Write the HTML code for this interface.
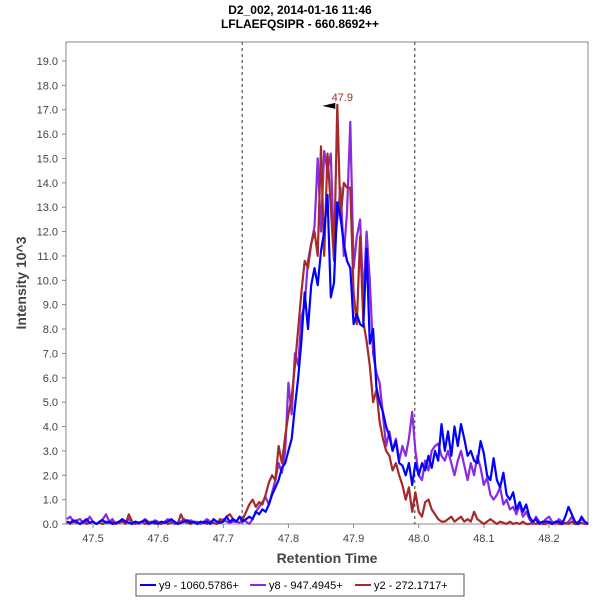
<!DOCTYPE html>
<html><head><meta charset="utf-8"><style>
body{margin:0;background:#fff;font-family:"Liberation Sans",sans-serif;}
svg text{font-family:"Liberation Sans",sans-serif;}
</style></head><body>
<svg id="chart" width="600" height="600">
<text x="300" y="14" text-anchor="middle" font-size="12" font-weight="bold">D2_002, 2014-01-16 11:46</text>
<text x="300" y="28" text-anchor="middle" font-size="12" font-weight="bold">LFLAEFQSIPR - 660.8692++</text>
<rect x="66" y="42" width="522" height="482" fill="#fff" stroke="#888"/>
<g id="yticks"></g><g id="xticks"></g><g id="series"></g>
<text transform="translate(26,283) rotate(-90)" text-anchor="middle" font-size="14" font-weight="bold" fill="#444">Intensity 10^3</text>
<text x="327" y="563" text-anchor="middle" font-size="14" font-weight="bold" fill="#444">Retention Time</text>
<g>
<rect x="136" y="574" width="328" height="22" fill="#fff" stroke="#555"/>
<g><line x1="140" y1="585" x2="156" y2="585" stroke="#0000ff" stroke-width="2"/><text x="159" y="589" font-size="11">y9 - 1060.5786+</text></g>
<g><line x1="250" y1="585" x2="266" y2="585" stroke="#8a2be2" stroke-width="2"/><text x="269" y="589" font-size="11">y8 - 947.4945+</text></g>
<g><line x1="355" y1="585" x2="371" y2="585" stroke="#a52a2a" stroke-width="2"/><text x="374" y="589" font-size="11">y2 - 272.1717+</text></g>
</g>
</svg>
<script>
const t0 = 47.46, step = 0.005;
const yTicks = [0,1,2,3,4,5,6,7,8,9,10,11,12,13,14,15,16,17,18,19];
const xTicks = [47.5,47.6,47.7,47.8,47.9,48.0,48.1,48.2];
const markers = [47.729, 47.994];
const peakTime = 47.875, peakVal = 17.2, peakLabel = "47.9";
const y9 = [0.1,0.05,0.15,0.1,0.0,0.1,0.2,0.05,0.1,0.0, 0.1,0.15,0.05,0.1,0.0,0.05,0.1,0.2,0.1,0.05, 0.0,0.1,0.05,0.1,0.15,0.0,0.05,0.1,0.0,0.1, 0.05,0.1,0.2,0.1,0.0,0.05,0.1,0.15,0.05,0.1, 0.0,0.1,0.05,0.1,0.0,0.2,0.1,0.05,0.1,0.3, 0.1,0.2,
0.1,0.3,0.1,0.2,0.3,0.2,0.5,0.4, 0.6,0.5,0.8,1.2,1.5,1.8,2.3,2.5, 3.0,3.5,4.8,6.0,7.5,9.5,8.0,9.8,
10.5,9.8,11.2,12.0,13.5,9.3,9.9,13.2, 12.6,11.5,10.8,10.5,8.2,8.6,8.2,8.1, 11.3,7.4,8.0,5.6,5.0,4.6,4.0,3.6,
3.0,3.4,2.5,2.4,2.0,2.5,1.6,2.5, 2.0,2.5,2.2,2.8,2.3,3.0,2.6,4.1, 3.0,3.8,2.8,4.0,3.2,4.1,3.5,2.8,
3.0,2.6,2.5,3.4,2.9,2.0,1.8,2.7, 1.8,1.5,2.1,1.2,1.0,1.3,0.6,0.9, 0.5,0.8,0.3,0.1,0.2,0.0,0.1,0.1,
0.1,0.0,0.1,0.1,0.0,0.3,0.7,0.4,0.1,0.0,0.3,0.1,0.0];
const y8 = [0.2,0.3,0.1,0.15,0.2,0.05,0.1,0.3,0.1,0.0, 0.1,0.2,0.4,0.1,0.2,0.0,0.1,0.15,0.1,0.2, 0.05,0.1,0.0,0.1,0.2,0.1,0.05,0.15,0.1,0.0, 0.1,0.2,0.1,0.0,0.05,0.1,0.2,0.1,0.15,0.05, 0.1,0.0,0.1,0.2,0.1,0.05,0.0,0.1,0.2,0.1, 0.05,0.1,
0.1,0.05,0.2,0.1,0.0,0.2,0.5,0.7, 0.9,1.1,0.8,1.3,1.8,2.5,2.1,3.0, 5.8,4.5,7.0,6.5,8.5,9.0,10.8,11.5,
12.2,15.0,12.0,15.3,14.5,15.2,11.2,12.5, 13.8,11.0,12.8,16.5,10.5,11.8,12.5,9.2, 12.0,10.0,7.0,6.2,5.8,4.5,3.2,3.8,
3.0,3.5,2.6,3.2,2.8,3.5,4.6,3.0, 2.0,1.8,2.6,2.2,3.0,3.2,3.3,2.8, 2.6,3.0,2.5,2.0,2.6,3.0,2.4,1.8,
2.5,2.0,2.8,2.3,1.6,1.9,1.2,1.0, 1.2,1.5,0.8,1.0,0.6,0.7,0.4,0.8, 0.3,0.5,0.2,0.0,0.3,0.1,0.0,0.2,
0.3,0.1,0.0,0.2,0.1,0.0,0.1,0.3,0.0,0.1,0.2,0.1,0.0];
const y2 = [0.1,0.0,0.1,0.05,0.0,0.1,0.0,0.05,0.1,0.0, 0.05,0.0,0.1,0.05,0.1,0.0,0.05,0.1,0.0,0.4, 0.1,0.0,0.05,0.1,0.0,0.05,0.1,0.0,0.05,0.0, 0.1,0.0,0.05,0.1,0.0,0.4,0.1,0.05,0.0,0.1, 0.0,0.05,0.1,0.0,0.1,0.05,0.0,0.2,0.1,0.3, 0.4,0.2,
0.1,0.3,0.2,0.5,0.8,1.0,0.7,0.9, 0.8,1.2,1.7,2.0,1.8,3.2,2.5,3.6, 4.5,5.2,6.5,8.0,9.5,10.8,10.5,11.5,
12.0,11.0,15.5,11.0,15.2,13.0,10.8,17.2, 12.5,14.0,13.8,13.8,9.5,8.2,11.8,8.3, 7.5,6.5,5.0,5.5,4.2,3.5,3.0,2.8,
2.2,2.5,2.0,1.6,1.0,1.5,0.5,1.3, 0.5,0.3,0.9,1.0,0.6,0.4,0.2,0.1, 0.1,0.2,0.3,0.1,0.2,0.3,0.1,0.2,
0.1,0.5,0.2,0.1,0.0,0.1,0.2,0.1, 0.0,0.1,0.05,0.0,0.1,0.0,0.05,0.0, 0.1,0.0,0.0,0.05,0.0,0.1,0.0,0.0,
0.05,0.0,0.1,0.0,0.0,0.05,0.0,0.1,0.0,0.0,0.05,0.0,0.0];
const NS="http://www.w3.org/2000/svg";
const X = t => 93 + (t - 47.5) * 651.4;
const Y = v => 524 - v * 24.37;
function mk(tag, attrs, parent){const e=document.createElementNS(NS,tag);for(const k in attrs)e.setAttribute(k,attrs[k]);parent.appendChild(e);return e;}
const yg=document.getElementById('yticks'), xg=document.getElementById('xticks'), sg=document.getElementById('series');
yTicks.forEach(v=>{
  const l=mk('line',{x1:62,x2:66,y1:Y(v),y2:Y(v),stroke:'#888'},yg);
  
  
  const t=mk('text',{x:58,y:Y(v)+4,'text-anchor':'end','font-size':11,fill:'#444'},yg);
  
  
  t.textContent=v.toFixed(1);
});
xTicks.forEach(v=>{
  const l=mk('line',{x1:X(v),x2:X(v),y1:524,y2:528,stroke:'#888'},xg);
  
  
  const t=mk('text',{x:X(v),y:542,'text-anchor':'middle','font-size':11,fill:'#444'},xg);
  
  
  t.textContent=v.toFixed(1);
});
markers.forEach(v=>{
  const l=mk('line',{x1:X(v),x2:X(v),y1:42,y2:524,stroke:'#333','stroke-dasharray':'3,3'},xg);
  
  
});
function line(arr,color,name){
  const pts=arr.map((v,i)=>X(t0+i*step).toFixed(1)+','+Y(v).toFixed(1)).join(' ');
  const p=mk('polyline',{points:pts,fill:'none',stroke:color,'stroke-width':2.2,'stroke-linejoin':'round'},sg);
  
  
}
line(y8,'#8a2be2','series-y8');
line(y2,'#a52a2a','series-y2');
line(y9,'#0000ff','series-y9');
const px=X(peakTime), py=Y(peakVal);
const ar=mk('polygon',{points:`${px-15},${py+1} ${px-2},${py-2} ${px-2},${py+4}`,fill:'#000'},sg);


const pl=mk('text',{x:px+5,y:py-4,'text-anchor':'middle','font-size':11,fill:'#a52a2a'},sg);


pl.textContent=peakLabel;
</script>
</body></html>
